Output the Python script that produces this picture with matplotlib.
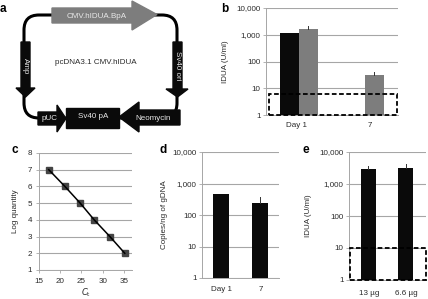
#!/usr/bin/env python3
import matplotlib
matplotlib.use('Agg')
import matplotlib.pyplot as plt
from matplotlib.patches import Rectangle, Polygon, FancyBboxPatch
from matplotlib.ticker import FixedLocator, FixedFormatter, NullLocator

plt.rcParams['font.family'] = ['Liberation Sans', 'DejaVu Sans']
plt.rcParams['font.size'] = 5.8

W, H = 428, 299
GRID = '#a6a6a6'
TXT = '#2a2a2a'
DARK = '#0a0a0a'
GREY = '#7d7d7d'

# panel b
b_cats = ['Day 1', '7']
b_black = [1150, float('nan')]
b_grey = [1600, 32]
b_grey_top = [2100, 42]

# panel c
c_ct = [17.3, 21.1, 24.7, 28.0, 31.7, 35.2]
c_logq = [7, 6, 5, 4, 3, 2]
c_xticks = [15, 20, 25, 30, 35]
c_yticks = [1, 2, 3, 4, 5, 6, 7, 8]

# panel d
d_cats = ['Day 1', '7']
d_vals = [450, 235]
d_top = [480, 370]

# panel e
e_cats = ['13 µg', '6.6 µg']
e_vals = [2950, 3200]
e_top = [3700, 4100]

log_ticks = [1, 10, 100, 1000, 10000]
log_labels = ['1', '10', '100', '1,000', '10,000']

fig = plt.figure(figsize=(W / 100, H / 100), dpi=100)


def px_axes(x0, y0, x1, y1):
    # pixel box measured from the top left of the image
    return fig.add_axes([x0 / W, 1 - y1 / H, (x1 - x0) / W, (y1 - y0) / H])


def style(ax):
    for s in ['top', 'right']:
        ax.spines[s].set_visible(False)
    for s in ['left', 'bottom']:
        ax.spines[s].set_color(GRID)
        ax.spines[s].set_linewidth(0.7)
    ax.tick_params(length=2, width=0.6, color=GRID, labelcolor=TXT, pad=2, labelsize=5.8)
    ax.set_axisbelow(True)
    ax.grid(axis='y', color=GRID, linewidth=0.8)


def log_panel(ax, cats, tick_pos, xpad):
    ax.set_yscale('log')
    ax.set_ylim(1, 10000)
    ax.yaxis.set_major_locator(FixedLocator(log_ticks))
    ax.yaxis.set_major_formatter(FixedFormatter(log_labels))
    ax.yaxis.set_minor_locator(NullLocator())
    ax.set_xlim(-0.5, 1.5)
    ax.set_xticks(tick_pos)
    ax.set_xticklabels(cats)
    style(ax)
    ax.tick_params(axis='x', length=0, pad=xpad)


def dashed_box(ax, x0, x1, y0, y1):
    ax.add_patch(Rectangle((x0, y0), x1 - x0, y1 - y0, fill=False, ec='black', lw=1.3,
                           ls=(0, (2.6, 1.4)), zorder=6, clip_on=False))


# panel a, plasmid map drawn in pixels
bg = fig.add_axes([0, 0, 1, 1])
bg.set_xlim(0, W)
bg.set_ylim(H, 0)
bg.axis('off')

bg.add_patch(FancyBboxPatch((24, 15), 153, 103, boxstyle='round,pad=0,rounding_size=15',
                            fill=False, ec='black', lw=2.2))
bg.add_patch(Polygon([(52, 8), (132, 8), (132, 1), (157, 14.5), (132, 30), (132, 23), (52, 23)],
                     fc=GREY, ec=GREY))
bg.add_patch(Polygon([(21, 42), (30, 42), (30, 88), (35, 88), (25.5, 97), (16, 88), (21, 88)],
                     fc=DARK, ec=DARK))
bg.add_patch(Polygon([(173, 42), (182, 42), (182, 89), (188, 89), (177.5, 97), (166, 89), (173, 89)],
                     fc=DARK, ec=DARK))
bg.add_patch(Polygon([(38, 112), (57, 112), (57, 105), (66, 118.5), (57, 132), (57, 125), (38, 125)],
                     fc=DARK, ec=DARK))
bg.add_patch(Rectangle((66, 108), 53, 20, fc=DARK, ec=DARK))
bg.add_patch(Polygon([(119, 117), (139, 102), (139, 110), (180, 110), (180, 125), (139, 125), (139, 132)],
                     fc=DARK, ec=DARK))

bg.text(97, 17, 'CMV.hIDUA.BpA', color='#e8e8e8', ha='center', va='center', fontsize=5.8)
bg.text(96, 62, 'pcDNA3.1 CMV.hIDUA', color=TXT, ha='center', va='center', fontsize=5.8)
bg.text(25.5, 66, 'Amp', color='#e8e8e8', ha='center', va='center', rotation=270, fontsize=5.8)
bg.text(177.5, 66, 'Sv40 ori', color='#e8e8e8', ha='center', va='center', rotation=270, fontsize=5.8)
bg.text(50, 119, 'pUC', color='#e8e8e8', ha='center', va='center', fontsize=5.8)
bg.text(93, 117, 'Sv40 pA', color='#e8e8e8', ha='center', va='center', fontsize=5.8)
bg.text(153, 118, 'Neomycin', color='#e8e8e8', ha='center', va='center', fontsize=5.8)

for lab, x, y in [('a', 3, 9), ('b', 225, 9), ('c', 15, 150), ('d', 163, 150), ('e', 306, 150)]:
    bg.text(x, y, lab, color='black', ha='center', va='center', fontsize=8.5, fontweight='bold')

# panel b
ax = px_axes(266, 8, 398, 115)
log_panel(ax, b_cats, [-0.045, 1.076], 5)
w = 0.285
ax.bar([i - w / 2 for i in range(2)], b_black, w, color=DARK, bottom=0.5)
ax.bar([i + w / 2 for i in range(2)], b_grey, w, color=GREY, bottom=0.5)
for i in range(2):
    ax.plot([i + w / 2] * 2, [b_grey[i], b_grey_top[i]], color='#333333', lw=0.7)
ax.set_ylabel('IDUA (U/ml)', color=TXT, fontsize=5.8, labelpad=5)
dashed_box(ax, -0.455, 1.485, 1, 6)

# panel c
ax = px_axes(39, 153, 132, 270)
ax.set_xlim(15, 36.9)
ax.set_ylim(1, 8)
ax.set_xticks(c_xticks)
ax.set_yticks(c_yticks)
style(ax)
ax.tick_params(axis='x', pad=4)
ax.tick_params(axis='y', pad=3)
ax.plot(c_ct, c_logq, color='black', lw=1.1, zorder=4)
ax.plot(c_ct, c_logq, ls='none', marker='s', ms=4.4, mfc='#444444', mec='#444444', zorder=3)
ax.set_xlabel('$C_\\mathrm{t}$', color=TXT, fontsize=6, labelpad=1)
ax.set_ylabel('Log quantity', color=TXT, fontsize=5.8, labelpad=6)

# panel d
ax = px_axes(202, 152, 279, 278)
log_panel(ax, d_cats, [0.01, 1.03], 6)
ax.bar([0, 1], d_vals, 0.42, color=DARK, bottom=0.5)
for i in range(2):
    ax.plot([i, i], [d_vals[i], d_top[i]], color='#333333', lw=0.7)
ax.set_ylabel('Copies/ng of gDNA', color=TXT, fontsize=5.8, labelpad=3)

# panel e
ax = px_axes(349, 152, 426, 280)
log_panel(ax, e_cats, [0.02, 0.99], 7)
ax.bar([0.006, 0.97], e_vals, 0.39, color=DARK, bottom=0.5)
for x, v, t in zip([0.006, 0.97], e_vals, e_top):
    ax.plot([x, x], [v, t], color='#333333', lw=0.7)
ax.set_ylabel('IDUA (U/ml)', color=TXT, fontsize=5.8, labelpad=5)
dashed_box(ax, -0.47, 1.5, 1, 10)

fig.savefig('out.png', dpi=100)
